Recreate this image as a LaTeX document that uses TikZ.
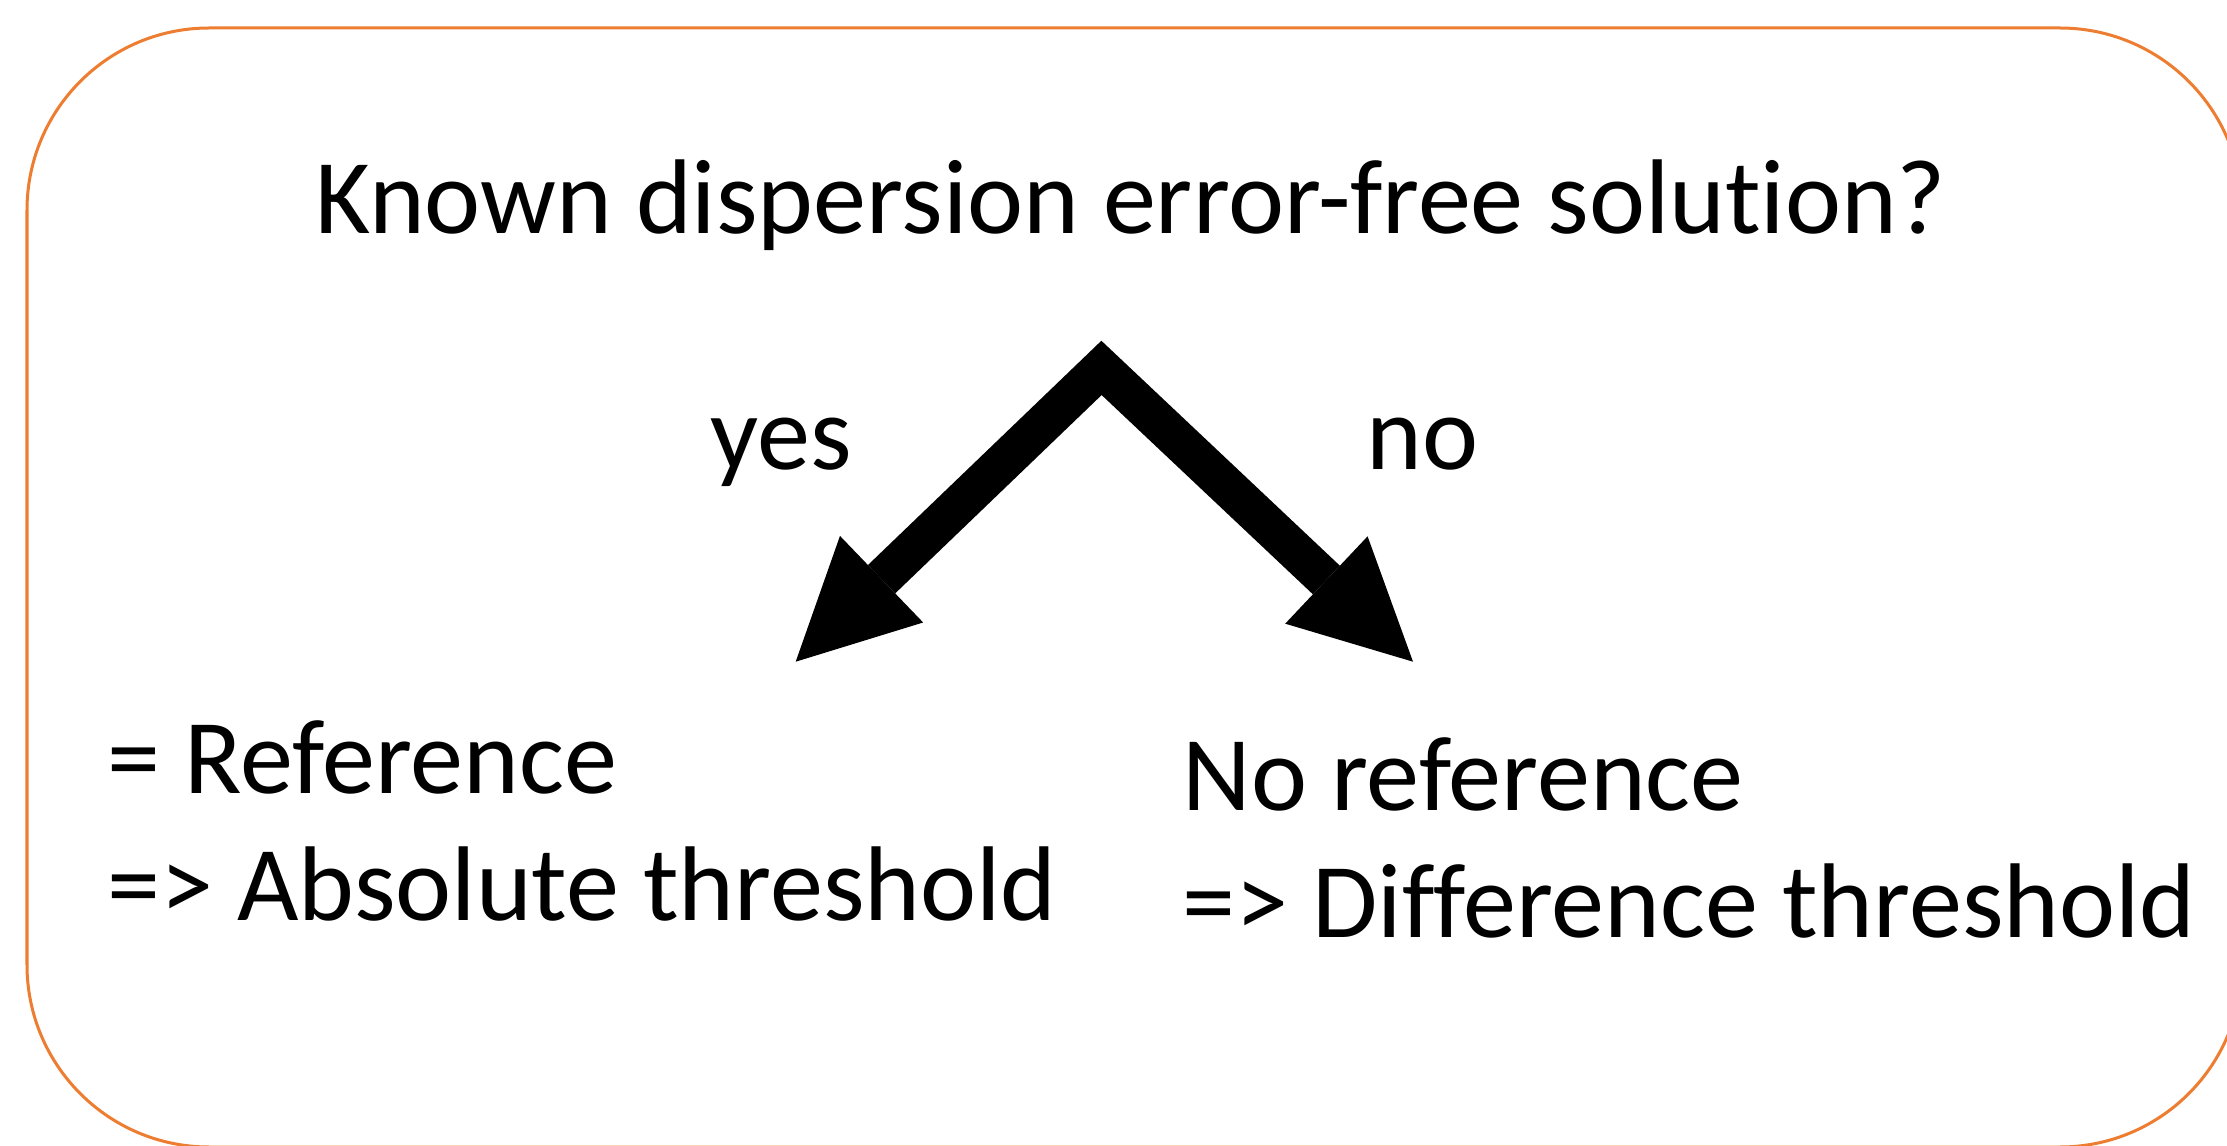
\documentclass[tikz,border=0pt]{standalone}
\usepackage{fontspec}
\setmainfont{Carlito}[Ligatures={NoCommon,NoRare}]
\usetikzlibrary{arrows.meta}

\definecolor{frameorange}{HTML}{ED7D31}

\begin{document}
\begin{tikzpicture}[x=0.01cm, y=-0.01cm,
    answer/.style={inner sep=0pt, font=\fontsize{30.2}{36.1}\selectfont},
    fork/.style={line width=0.393cm, line join=miter,
      {Triangle[length=1.19cm, width=1.2cm, line width=0pt]}-{Triangle[length=1.19cm, width=1.2cm, line width=0pt]}}]
  \useasboundingbox (0,0) rectangle (2227,1146);
  \clip (0,0) rectangle (2227,1146);
  % rounded frame, runs off the right and bottom edge
  \draw[frameorange, line width=0.03cm, rounded corners=1.82cm] (27,28) rectangle (2242,1147);

  % question
  \node[answer, anchor=base] (question) at (1131,234) {Known dispersion error-free solution?};
  % branch labels
  \node[answer, anchor=base west] (yes) at (710,469) {yes};
  \node[answer, anchor=base west] (no) at (1366,469) {no};
  % outcomes (base = baseline of the last line)
  \node[answer, anchor=base west, align=left] (absolute) at (107,920) {= Reference\\=> Absolute threshold};
  \node[answer, anchor=base west, align=left] (difference) at (1182,937) {No reference\\=> Difference threshold};

  % fork arrow
  \coordinate (split) at (1101.5,367.9);
  \coordinate (yestip) at (795.7,661.7);
  \coordinate (notip) at (1413,661.7);
  \draw[fork] (yestip) -- (split) -- (notip);
\end{tikzpicture}
\end{document}
